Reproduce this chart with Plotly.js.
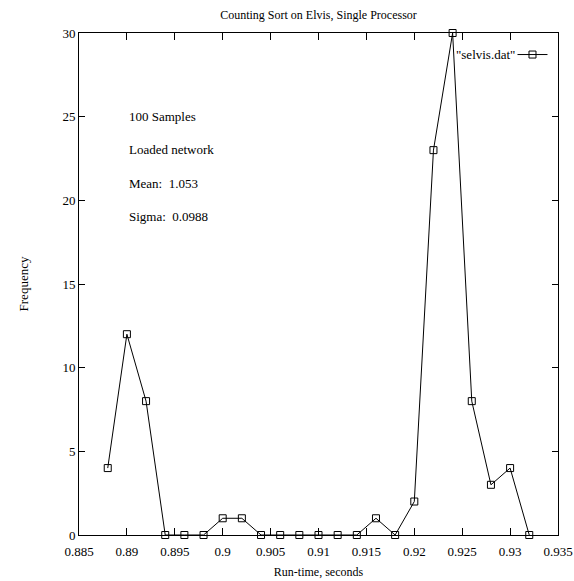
<!DOCTYPE html>
<html>
<head>
<meta charset="utf-8">
<script src="https://cdn.plot.ly/plotly-3.0.1.min.js"></script>
<style>
  html, body { margin: 0; padding: 0; background: #fff; }
  #chart { width: 574px; height: 581px; }
</style>
</head>
<body>
<div id="chart"></div>
<script>
// run-time bins (seconds) and how many samples fell in each
const runTimes = [0.888, 0.890, 0.892, 0.894, 0.896, 0.898, 0.900, 0.902, 0.904, 0.906, 0.908, 0.910,
                  0.912, 0.914, 0.916, 0.918, 0.920, 0.922, 0.924, 0.926, 0.928, 0.930, 0.932];
const frequency = [4, 12, 8, 0, 0, 0, 1, 1, 0, 0, 0, 0,
                   0, 0, 1, 0, 2, 23, 30, 8, 3, 4, 0];

const xTickVals = [0.885, 0.89, 0.895, 0.9, 0.905, 0.91, 0.915, 0.92, 0.925, 0.93, 0.935];
const xTickText = ['0.885', '0.89', '0.895', '0.9', '0.905', '0.91', '0.915', '0.92', '0.925', '0.93', '0.935'];
const yTickVals = [0, 5, 10, 15, 20, 25, 30];

const notes = ['100 Samples', 'Loaded network', 'Mean:  1.053', 'Sigma:  0.0988'];
const seriesLabel = '"selvis.dat"';

const serif = '"Liberation Serif", "Times New Roman", Times, serif';

const data = [
    {
        x: runTimes,
        y: frequency,
        type: 'scatter',
        mode: 'lines+markers',
        name: ' ',
        line: { color: '#000', width: 1 },
        marker: { symbol: 'square-open', size: 7, color: '#000', line: { width: 1, color: '#000' } },
        cliponaxis: false
    }
];

const annotations = notes.map((t, i) => ({
    text: t,
    xref: 'paper', yref: 'paper',
    x: 0.1, y: 0.833 - i * 0.066,
    xanchor: 'left', yanchor: 'middle',
    showarrow: false,
    font: { family: serif, size: 13, color: '#000' }
}));
annotations.push({
    text: seriesLabel,
    xref: 'paper', yref: 'paper',
    x: 0.914, y: 0.957,
    xanchor: 'right', yanchor: 'middle',
    showarrow: false,
    font: { family: serif, size: 13, color: '#000' }
});

const layout = {
    width: 574,
    height: 581,
    margin: { l: 79, r: 16, t: 33, b: 46 },
    paper_bgcolor: '#fff',
    plot_bgcolor: '#fff',
    font: { family: serif, size: 13, color: '#000' },
    title: {
        text: 'Counting Sort on Elvis, Single Processor',
        font: { family: serif, size: 12, color: '#000' },
        x: 0.5, xref: 'paper', xanchor: 'center',
        y: 0.974, yanchor: 'middle'
    },
    showlegend: true,
    legend: {
        x: 0.905, y: 0.957,
        xanchor: 'left', yanchor: 'middle',
        bgcolor: 'rgba(0,0,0,0)',
        borderwidth: 0,
        itemwidth: 30,
        font: { family: serif, size: 13 }
    },
    xaxis: {
        range: [0.885, 0.935],
        tickmode: 'array',
        tickvals: xTickVals,
        ticktext: xTickText,
        ticks: 'inside',
        ticklen: 7,
        tickcolor: '#000',
        ticklabelstandoff: 4,
        showline: true,
        linecolor: '#000',
        linewidth: 1,
        mirror: 'ticks',
        showgrid: false,
        zeroline: false,
        tickfont: { family: serif, size: 13 },
        title: {
            text: 'Run-time, seconds',
            font: { family: serif, size: 12 },
            standoff: 10
        }
    },
    yaxis: {
        range: [0, 30],
        tickmode: 'array',
        tickvals: yTickVals,
        ticks: 'inside',
        ticklen: 6,
        tickcolor: '#000',
        showline: true,
        linecolor: '#000',
        linewidth: 1,
        mirror: 'ticks',
        showgrid: false,
        zeroline: false,
        tickfont: { family: serif, size: 13 },
        title: {
            text: 'Frequency',
            font: { family: serif, size: 13 },
            standoff: 30
        }
    },
    annotations: annotations
};

Plotly.newPlot('chart', data, layout, { displayModeBar: false, staticPlot: true });
</script>
</body>
</html>
